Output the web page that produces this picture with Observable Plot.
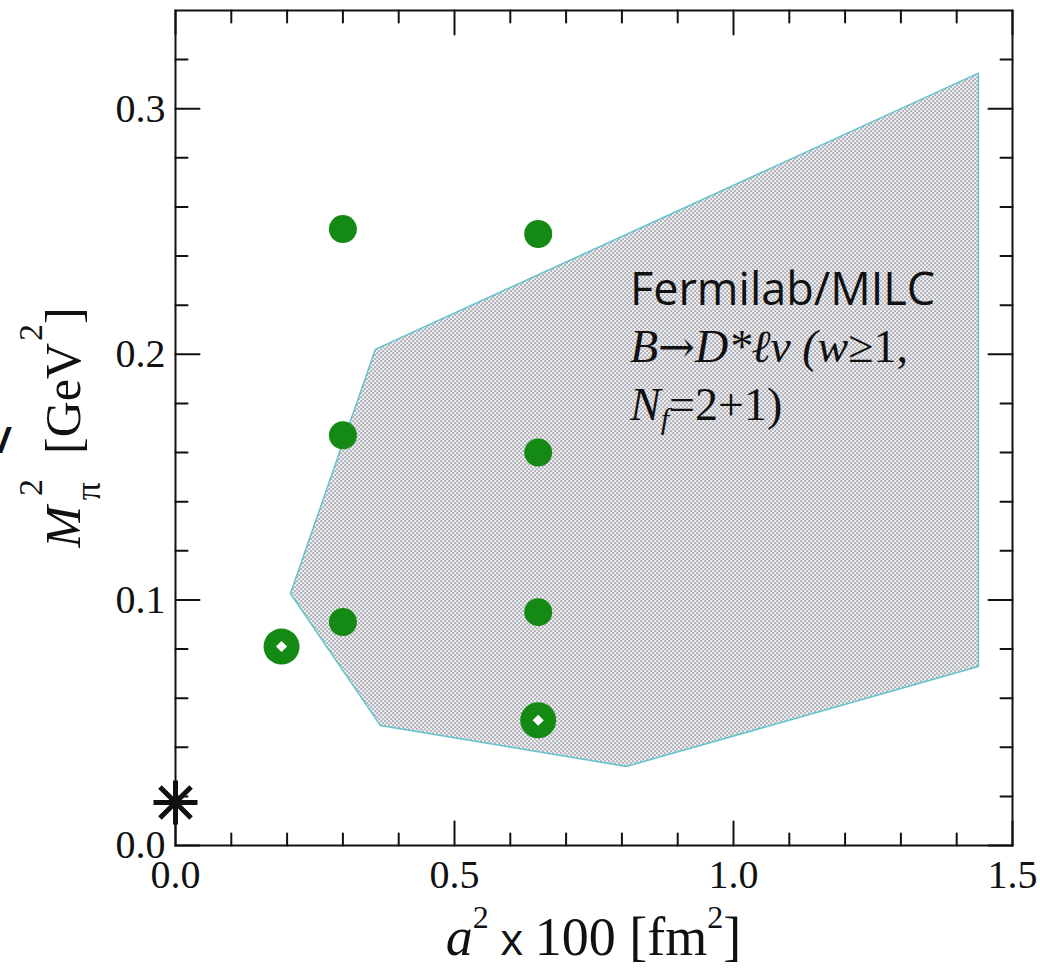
<!DOCTYPE html>
<html>
<head>
<meta charset="utf-8">
<script src="https://cdn.jsdelivr.net/npm/d3@7"></script>
<script src="https://cdn.jsdelivr.net/npm/@observablehq/plot@0.6"></script>
<style>
  html, body { margin: 0; padding: 0; background: #fff; }
  #chart svg { display: block; }
  text { white-space: pre; }
</style>
</head>
<body>
<div id="chart"></div>
<script>
// ---- data ----
// filled ensembles: a^2 x 100 [fm^2], M_pi^2 [GeV^2]
const ensembleA2   = [0.30, 0.65, 0.30, 0.65, 0.30, 0.65];
const ensembleMpi2 = [0.251, 0.249, 0.167, 0.160, 0.091, 0.095];
// ring (open-centre) ensembles
const ringA2   = [0.19, 0.65];
const ringMpi2 = [0.081, 0.051];
// physical point (asterisk)
const physA2   = [0.0];
const physMpi2 = [0.0175];
// shaded Fermilab/MILC region (closed polygon)
const regionA2   = [0.206, 0.358, 1.439, 1.439, 0.808, 0.367, 0.206];
const regionMpi2 = [0.1026, 0.202, 0.3145, 0.0729, 0.0322, 0.0489, 0.1026];
// ticks
const xMajor = [0.0, 0.5, 1.0, 1.5];
const xMinor = [0.1, 0.2, 0.3, 0.4, 0.6, 0.7, 0.8, 0.9, 1.1, 1.2, 1.3, 1.4];
const yMajor = [0.0, 0.1, 0.2, 0.3];
const yMinor = [0.02, 0.04, 0.06, 0.08, 0.12, 0.14, 0.16, 0.18, 0.22, 0.24, 0.26, 0.28, 0.32];
// annotation anchor (data coords)
const noteA2 = [0.8154];
const noteMpi2 = [0.22];

// ---- build ----
const green = "#148a14";
const serif = "'Liberation Serif', 'Times New Roman', Times, serif";
const sans = "'Open Sans', sans-serif";
const ensembles = ensembleA2.map((a, i) => ({a, m: ensembleMpi2[i]}));
const rings = ringA2.map((a, i) => ({a, m: ringMpi2[i]}));
const phys = physA2.map((a, i) => ({a, m: physMpi2[i]}));
const region = regionA2.map((a, i) => ({a, m: regionMpi2[i]}));

const tickShape = {draw(ctx, l) { ctx.moveTo(0, 0); ctx.lineTo(0, -l); }};
const star8 = {
  draw(ctx, size) {
    const r = Math.sqrt(size / Math.PI);
    for (let k = 0; k < 4; k++) {
      const t = k * Math.PI / 4;
      const dx = r * Math.cos(t), dy = r * Math.sin(t);
      ctx.moveTo(-dx, -dy); ctx.lineTo(dx, dy);
    }
  }
};
const tk = (data, opts) => Plot.vector(data, {anchor: "start", shape: tickShape, stroke: "#111", strokeWidth: 2, ...opts});

const plot = Plot.plot({
  width: 1040,
  height: 969,
  marginLeft: 175,
  marginRight: 28,
  marginTop: 10,
  marginBottom: 124,
  x: {domain: [0, 1.5]},
  y: {domain: [0, 0.34]},
  style: {background: "#fff", color: "#111"},
  marks: [
    Plot.line(region, {x: "a", y: "m", fill: "url(#stipple)", stroke: "#62c4cc", strokeWidth: 1.5}),
    // ticks (inward, all four sides)
    tk(xMajor, {x: d => d, frameAnchor: "bottom", rotate: 0, length: 24}),
    tk(xMinor, {x: d => d, frameAnchor: "bottom", rotate: 0, length: 12}),
    tk(xMajor, {x: d => d, frameAnchor: "top", rotate: 180, length: 24}),
    tk(xMinor, {x: d => d, frameAnchor: "top", rotate: 180, length: 12}),
    tk(yMajor, {y: d => d, frameAnchor: "left", rotate: 90, length: 24}),
    tk(yMinor, {y: d => d, frameAnchor: "left", rotate: 90, length: 12}),
    tk(yMajor, {y: d => d, frameAnchor: "right", rotate: -90, length: 24}),
    tk(yMinor, {y: d => d, frameAnchor: "right", rotate: -90, length: 12}),
    Plot.frame({stroke: "#111", strokeWidth: 2}),
    Plot.axisX(xMajor, {anchor: "bottom", tickSize: 0, tickPadding: 14, tickFormat: d => d.toFixed(1),
      fontSize: 40, fontFamily: serif, label: null}),
    Plot.axisY(yMajor, {anchor: "left", tickSize: 0, tickPadding: 10, tickFormat: d => d.toFixed(1),
      fontSize: 40, fontFamily: serif, label: null}),
    Plot.dot(ensembles, {x: "a", y: "m", r: 14, fill: green}),
    Plot.dot(rings, {x: "a", y: "m", r: 18, fill: green}),
    Plot.dot(rings, {x: "a", y: "m", r: 5, symbol: "diamond2", fill: "#fff"}),
    Plot.dot(phys, {x: "a", y: "m", r: 22, symbol: star8, stroke: "#111", strokeWidth: 5, fill: "none"})
  ]
});

const svg = d3.select(plot);
// stipple pattern
const defs = svg.insert("defs", ":first-child");
const pat = defs.append("pattern").attr("id", "stipple").attr("patternUnits", "userSpaceOnUse")
  .attr("width", 4).attr("height", 4);
pat.append("rect").attr("width", 4).attr("height", 4).attr("fill", "#f5f5fa");
pat.append("rect").attr("x", 0).attr("y", 0).attr("width", 1.2).attr("height", 1.2).attr("fill", "#2a2a34");
pat.append("rect").attr("x", 2).attr("y", 2).attr("width", 1.2).attr("height", 1.2).attr("fill", "#2a2a34");

const sx = plot.scale("x"), sy = plot.scale("y");
const [x0, x1] = sx.range, [y0, y1] = sy.range;

// annotation
const nx = sx.apply(noteA2[0]), ny = sy.apply(noteMpi2[0]);
const note = svg.append("text").attr("x", nx).attr("y", ny).attr("fill", "#111").attr("text-anchor", "start");
note.append("tspan").attr("font-family", sans).attr("font-size", 45).text("Fermilab/MILC");
const l2 = note.append("tspan").attr("x", nx).attr("dy", 57).attr("font-family", serif).attr("font-size", 46);
l2.append("tspan").attr("font-style", "italic").text("B");
l2.append("tspan").attr("font-family", "'DejaVu Serif', serif").attr("font-size", 44).text("→");
l2.append("tspan").attr("font-style", "italic").text("D*ℓv (w");
l2.append("tspan").text("≥1,");
const l3 = note.append("tspan").attr("x", nx).attr("dy", 58).attr("font-family", serif).attr("font-size", 46);
l3.append("tspan").attr("font-style", "italic").text("N");
l3.append("tspan").attr("font-style", "italic").attr("font-size", 30).attr("dy", 9).text("f");
l3.append("tspan").attr("dy", -9).text("=2+1)");

// y-axis label
const ycen = (y0 + y1) / 2;
const yl = svg.append("text").attr("transform", `translate(80,${ycen}) rotate(-90)`)
  .attr("text-anchor", "middle").attr("font-family", serif).attr("font-size", 50).attr("fill", "#111");
yl.append("tspan").attr("font-style", "italic").text("M");
yl.append("tspan").attr("font-size", 36).attr("dx", 6).attr("dy", 20).text("π");
yl.append("tspan").attr("font-size", 34).attr("dx", -14).attr("dy", -58).text("2");
yl.append("tspan").attr("dy", 38).text("  [GeV");
yl.append("tspan").attr("font-size", 34).attr("dx", 2).attr("dy", -38).text("2");
yl.append("tspan").attr("dy", 38).text("]");

// x-axis label
const xcen = (x0 + x1) / 2;
const xl = svg.append("text").attr("x", xcen).attr("y", 955).attr("text-anchor", "middle")
  .attr("font-family", serif).attr("font-size", 54).attr("fill", "#111");
xl.append("tspan").attr("font-style", "italic").text("a");
xl.append("tspan").attr("font-size", 32).attr("dy", -27).text("2");
xl.append("tspan").attr("dy", 27).attr("font-family", sans).attr("font-size", 44).text(" x ");
xl.append("tspan").text("100 [fm");
xl.append("tspan").attr("font-size", 32).attr("dy", -27).text("2");
xl.append("tspan").attr("dy", 27).text("]");

// cropped glyph at left edge (as in the reference)
svg.append("text").attr("x", -3).attr("y", 453).attr("text-anchor", "start")
  .attr("font-family", sans).attr("font-weight", "bold")
  .attr("font-size", 36).attr("fill", "#111").text("/");

document.getElementById("chart").appendChild(plot);
</script>
</body>
</html>
